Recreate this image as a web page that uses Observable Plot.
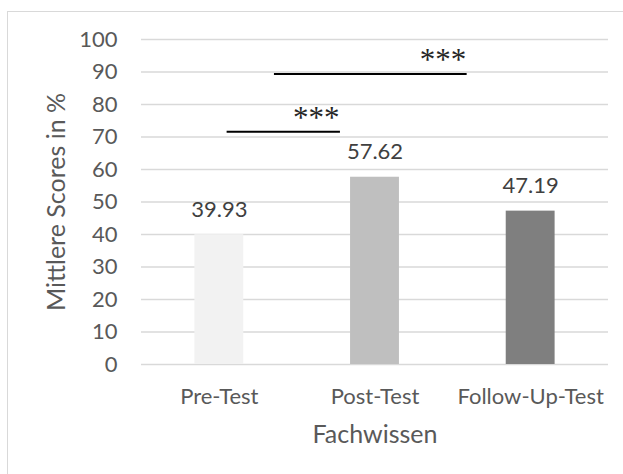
<!DOCTYPE html>
<html>
<head>
<meta charset="utf-8">
<script src="https://cdn.jsdelivr.net/npm/d3@7"></script>
<script src="https://cdn.jsdelivr.net/npm/@observablehq/plot@0.6"></script>
<style>
  html, body { margin: 0; padding: 0; background: #fff; }
  #wrap { position: relative; width: 623px; height: 474px; overflow: hidden; }
  #frame { position: absolute; left: 7px; top: 11px; width: 640px; height: 500px; border: 1px solid #d9d9d9; box-sizing: border-box; }
  #chart { position: absolute; left: 0; top: 0; }
</style>
</head>
<body>
<div id="wrap"><div id="frame"></div><div id="chart"></div></div>
<script>
const categories = ["Pre-Test", "Post-Test", "Follow-Up-Test"];
const values = [39.93, 57.62, 47.19];
const colors = ["#f2f2f2", "#bfbfbf", "#7f7f7f"];
const yTicks = [0, 10, 20, 30, 40, 50, 60, 70, 80, 90, 100];
const yLabel = "Mittlere Scores in %";
const xLabel = "Fachwissen";
// significance brackets (x in category-index units, y in %)
const sigX1 = [0.05, 0.354];
const sigX2 = [0.778, 1.592];
const sigY = [71.6, 89.4];
const sigText = ["***", "***"];

const bars = categories.map((c, i) => ({i, c, v: values[i], color: colors[i]}));
const sigs = sigY.map((y, k) => ({x1: sigX1[k], x2: sigX2[k], y, t: sigText[k]}));
const halfBar = 0.157;

const font = "Lato, 'Open Sans', sans-serif";

const plot = Plot.plot({
  width: 623,
  height: 474,
  marginLeft: 141,
  marginRight: 15,
  marginTop: 39,
  marginBottom: 110,
  style: {fontFamily: font, background: "transparent"},
  x: {type: "linear", domain: [-0.5, 2.5]},
  y: {domain: [0, 100]},
  marks: [
    Plot.gridY(yTicks, {stroke: "#d9d9d9", strokeOpacity: 1, strokeWidth: 1.5}),
    Plot.axisY(yTicks, {tickSize: 0, tickPadding: 24, fontSize: 22, fill: "#595959", label: null}),
    Plot.axisX([0, 1, 2], {tickSize: 0, tickPadding: 24, fontSize: 22, fill: "#595959", tickFormat: (d) => categories[d], label: null}),
    Plot.rectY(bars, {x1: (d) => d.i - halfBar, x2: (d) => d.i + halfBar, y1: 0, y2: "v", fill: "color"}),
    Plot.text(bars, {x: "i", y: "v", text: (d) => d.v.toFixed(2), dy: -25, fontSize: 22, fill: "#404040"}),
    Plot.ruleY(sigs, {x1: "x1", x2: "x2", y: "y", stroke: "#000", strokeWidth: 2}),
    Plot.text(sigs, {x: "x2", y: "y", text: "t", textAnchor: "end", lineAnchor: "bottom", dx: -1, dy: -4, fontSize: 31, fontFamily: "'Liberation Serif', serif", fill: "#262626"}),
    Plot.text([xLabel], {frameAnchor: "bottom", lineAnchor: "middle", dy: 70, fontSize: 25, fill: "#595959"}),
    Plot.text([yLabel], {frameAnchor: "left", lineAnchor: "middle", textAnchor: "middle", dx: -85, rotate: -90, fontSize: 25, fill: "#595959"})
  ]
});
document.getElementById("chart").appendChild(plot);
</script>
</body>
</html>
